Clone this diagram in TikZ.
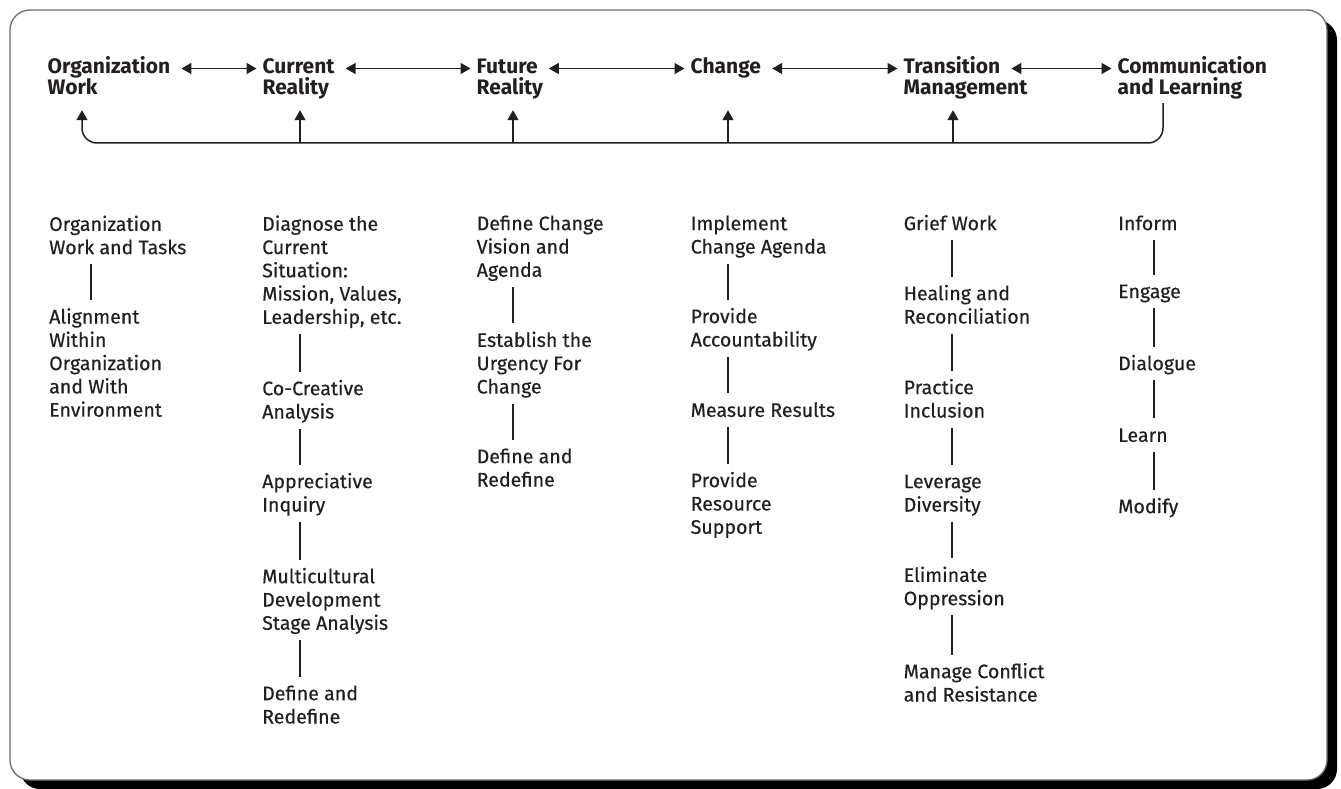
\documentclass[tikz,border=0pt]{standalone}
\usepackage{fontspec}
\setmainfont{Fira Sans}
\newfontfamily\bodyfam{Fira Sans}[FakeBold=0.35]
\usetikzlibrary{arrows.meta}
\definecolor{ink}{HTML}{231F20}
\definecolor{framegray}{HTML}{6E6E6E}
\newcommand\bodyfnt{\bodyfam\fontsize{19.6}{23.3}\selectfont}
\newcommand\headfnt{\fontsize{21}{21}\selectfont\bfseries}
\begin{document}
\begin{tikzpicture}[x=1pt,y=-1pt,
  item/.style={anchor=north west, inner sep=0pt, align=left, font=\bodyfnt, text=ink},
  head/.style={anchor=base west, inner sep=0pt, font=\headfnt, text=ink, text height=14pt, text depth=4pt},
  link/.style={draw=ink, line width=1.6pt, shorten <=3pt, shorten >=7pt},
  arr/.style={draw=ink, line width=1.5pt, -{Triangle[length=10pt,width=11pt]}},
  dbl/.style={draw=ink, line width=1.5pt, {Triangle[length=10pt,width=11pt]}-{Triangle[length=10pt,width=11pt]}, shorten <=11pt, shorten >=6pt}]
\useasboundingbox (0,0) rectangle (1341,789);
% frame with shadow
\fill[black, rounded corners=20pt] (20,20) rectangle (1337,789);
\filldraw[fill=white, draw=framegray, line width=1.3pt, rounded corners=20pt] (10,10) rectangle (1327,780);

% headers
\node[head] (ow1) at (47.5,73.5) {Organization};
\node[head] (ow2) at (47.5,94.5) {Work};
\node[head] (cr1) at (262.5,73.5) {Current};
\node[head] (cr2) at (262.5,94.5) {Reality};
\node[head] (fr1) at (476.5,73.5) {Future};
\node[head] (fr2) at (476.5,94.5) {Reality};
\node[head] (ch1) at (690.5,73.5) {Change};
\node[head] (tm1) at (903.5,73.5) {Transition};
\node[head] (tm2) at (903.5,94.5) {Management};
\node[head] (cl1) at (1117.5,73.5) {Communication};
\node[head] (cl2) at (1117.5,94.5) {and Learning};

\draw[dbl] (ow1.east) -- (cr1.west);
\draw[dbl] (cr1.east) -- (fr1.west);
\draw[dbl] (fr1.east) -- (ch1.west);
\draw[dbl] (ch1.east) -- (tm1.west);
\draw[dbl] (tm1.east) -- (cl1.west);

% feedback loop
\coordinate (jL) at (82,143);
\coordinate (jR) at (1163,143);
\coordinate (j2) at (300,143);
\coordinate (j3) at (513,143);
\coordinate (j4) at (728,143);
\coordinate (j5) at (953,143);
\draw[arr, rounded corners=15pt, shorten <=4.5pt, shorten >=11.5pt] (cl2.south -| jR) -- (jR) -- (jL) -- (ow2.south -| jL);
\draw[arr, shorten >=11.5pt] (j2) -- (cr2.south -| j2);
\draw[arr, shorten >=11.5pt] (j3) -- (fr2.south -| j3);
\draw[arr, shorten >=32.5pt] (j4) -- (ch1.south -| j4);
\draw[arr, shorten >=11.5pt] (j5) -- (tm2.south -| j5);

% column line positions
\coordinate (c1) at (91,0);
\coordinate (c2) at (300,0);
\coordinate (c3) at (513,0);
\coordinate (c4) at (728,0);
\coordinate (c5) at (952,0);
\coordinate (c6) at (1154,0);

% column 1
\node[item] (a1) at (49,214.4) {\strut Organization\\Work and Tasks\strut};
\node[item] (a2) at (49,307) {\strut Alignment\\Within\\Organization\\and With\\Environment\strut};
\draw[link] (a1.south -| c1) -- (a2.north -| c1);

% column 2
\node[item] (b1) at (262,214.2) {\strut Diagnose the\\Current\\Situation:\\Mission, Values,\\Leadership, etc.\strut};
\node[item] (b2) at (262,378.7) {\strut Co-Creative\\Analysis\strut};
\node[item] (b3) at (262,471.7) {\strut Appreciative\\Inquiry\strut};
\node[item] (b4) at (262,566.7) {\strut Multicultural\\Development\\Stage Analysis\strut};
\node[item] (b5) at (262,683.7) {\strut Define and\\Redefine\strut};
\draw[link] (b1.south -| c2) -- (b2.north -| c2);
\draw[link] (b2.south -| c2) -- (b3.north -| c2);
\draw[link] (b3.south -| c2) -- (b4.north -| c2);
\draw[link] (b4.south -| c2) -- (b5.north -| c2);

% column 3
\node[item] (d1) at (476.5,213.7) {\strut Define Change\\Vision and\\Agenda\strut};
\node[item] (d2) at (476.5,330.4) {\strut Establish the\\Urgency For\\Change\strut};
\node[item] (d3) at (476.5,446.7) {\strut Define and\\Redefine\strut};
\draw[link] (d1.south -| c3) -- (d2.north -| c3);
\draw[link] (d2.south -| c3) -- (d3.north -| c3);

% column 4
\node[item] (e1) at (690.5,213.7) {\strut Implement\\Change Agenda\strut};
\node[item] (e2) at (690.5,306.7) {\strut Provide\\Accountability\strut};
\node[item] (e3) at (690.5,400.4) {\strut Measure Results\strut};
\node[item] (e4) at (690.5,470.7) {\strut Provide\\Resource\\Support\strut};
\draw[link] (e1.south -| c4) -- (e2.north -| c4);
\draw[link] (e2.south -| c4) -- (e3.north -| c4);
\draw[link] (e3.south -| c4) -- (e4.north -| c4);

% column 5
\node[item] (f1) at (903.5,213.7) {\strut Grief Work\strut};
\node[item] (f2) at (903.5,283.7) {\strut Healing and\\Reconciliation\strut};
\node[item] (f3) at (903.5,377.7) {\strut Practice\\Inclusion\strut};
\node[item] (f4) at (903.5,471.7) {\strut Leverage\\Diversity\strut};
\node[item] (f5) at (903.5,565.4) {\strut Eliminate\\Oppression\strut};
\node[item] (f6) at (903.5,661.7) {\strut Manage Conflict\\and Resistance\strut};
\draw[link] (f1.south -| c5) -- (f2.north -| c5);
\draw[link] (f2.south -| c5) -- (f3.north -| c5);
\draw[link] (f3.south -| c5) -- (f4.north -| c5);
\draw[link] (f4.south -| c5) -- (f5.north -| c5);
\draw[link] (f5.south -| c5) -- (f6.north -| c5);

% column 6
\node[item] (g1) at (1118,213.7) {\strut Inform\strut};
\node[item] (g2) at (1118,281.7) {\strut Engage\strut};
\node[item] (g3) at (1118,353.7) {\strut Dialogue\strut};
\node[item] (g4) at (1118,425.4) {\strut Learn\strut};
\node[item] (g5) at (1118,496.7) {\strut Modify\strut};
\draw[link] (g1.south -| c6) -- (g2.north -| c6);
\draw[link] (g2.south -| c6) -- (g3.north -| c6);
\draw[link] (g3.south -| c6) -- (g4.north -| c6);
\draw[link] (g4.south -| c6) -- (g5.north -| c6);
\end{tikzpicture}
\end{document}
